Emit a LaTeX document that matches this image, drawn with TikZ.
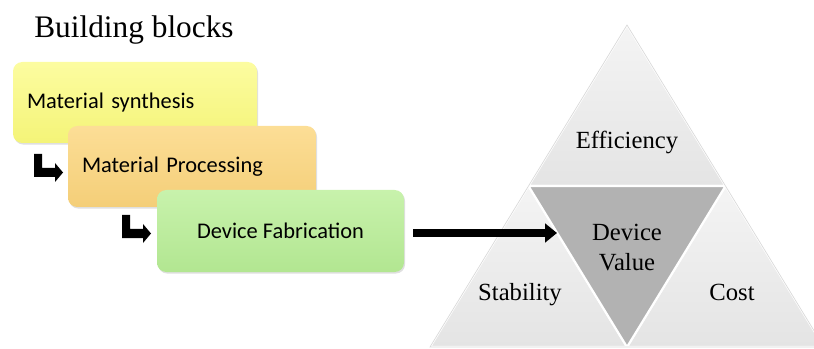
\documentclass[tikz,border=0pt]{standalone}
\usepackage{fontspec}
\setmainfont{Liberation Serif}
\newfontfamily\carlito{Carlito}
\usetikzlibrary{shadows,arrows.meta}
\definecolor{ylwA}{RGB}{252,252,160}
\definecolor{ylwB}{RGB}{244,244,120}
\definecolor{orgA}{RGB}{252,222,150}
\definecolor{orgB}{RGB}{244,206,120}
\definecolor{grnA}{RGB}{200,242,172}
\definecolor{grnB}{RGB}{178,230,145}
\definecolor{midgray}{RGB}{178,178,178}
\definecolor{trigA}{RGB}{244,244,244}
\definecolor{trigB}{RGB}{228,228,228}
\begin{document}
\begin{tikzpicture}[x=0.75pt,y=-0.75pt,
  box/.style={rounded corners=7pt, inner sep=0pt, font=\carlito\fontsize{16.8}{19}\selectfont,
    drop shadow={opacity=0.25, shadow xshift=0.8pt, shadow yshift=-1.2pt}},
  tri/.style={top color=trigA, bottom color=trigB, draw=white, line width=1.6pt},
  lbl/.style={font=\fontsize{18.5}{21}\selectfont, inner sep=0pt, anchor=base},
  bent/.style={fill=black}
]
\useasboundingbox (0,0) rectangle (814,349);

% title
\node[font=\fontsize{23.5}{26}\selectfont, inner sep=0pt] (title) at (134,30) {Building blocks};

% boxes
\node[box, top color=ylwA, bottom color=ylwB, minimum width=183pt, minimum height=60.75pt,
  text width=162pt, align=left] (b1) at (135,102.5) {Material synthesis};
\node[box, top color=orgA, bottom color=orgB, minimum width=186pt, minimum height=60.75pt,
  text width=165pt, align=left] (b2) at (192,166.5) {Material Processing};
\node[box, top color=grnA, bottom color=grnB, minimum width=185.25pt, minimum height=61.5pt,
  align=center] (b3) at (280.5,231) {Device Fabrication};

% bent arrows
\fill[bent] (34,154) -- (42,154) -- (42,168) -- (55,168) -- (55,163) -- (63,172.5) -- (55,182) -- (55,177) -- (34,177) -- cycle;
\fill[bent] (122,215) -- (130,215) -- (130,229) -- (143,229) -- (143,224) -- (151,233.5) -- (143,243) -- (143,238) -- (122,238) -- cycle;

% triangle
\coordinate (A) at (627,25);
\coordinate (B) at (430,347);
\coordinate (C) at (824,347);
\coordinate (AB) at (528.5,186);
\coordinate (AC) at (725.5,186);
\coordinate (BC) at (627,347);
\path[tri] (A) -- (AB) -- (AC) -- cycle;
\path[tri] (AB) -- (B) -- (BC) -- cycle;
\path[tri] (AC) -- (BC) -- (C) -- cycle;
\path[fill=midgray, draw=white, line width=1.6pt] (AB) -- (AC) -- (BC) -- cycle;
\draw[gray!30, line width=0.5pt] (A) -- (B) -- (C) -- cycle;

\node[lbl] (eff) at (627,149) {Efficiency};
\node[lbl] (dv1) at (627,240) {Device};
\node[lbl] (dv2) at (627,270) {Value};
\node[lbl] (stab) at (520,300) {Stability};
\node[lbl] (cost) at (732,300) {Cost};

% big arrow
\coordinate (s) at (413,233);
\coordinate (e) at (557,233);
\draw[line width=5.5pt, -{Triangle[length=9pt, width=14pt]}] (s) -- (e);
\end{tikzpicture}
\end{document}
